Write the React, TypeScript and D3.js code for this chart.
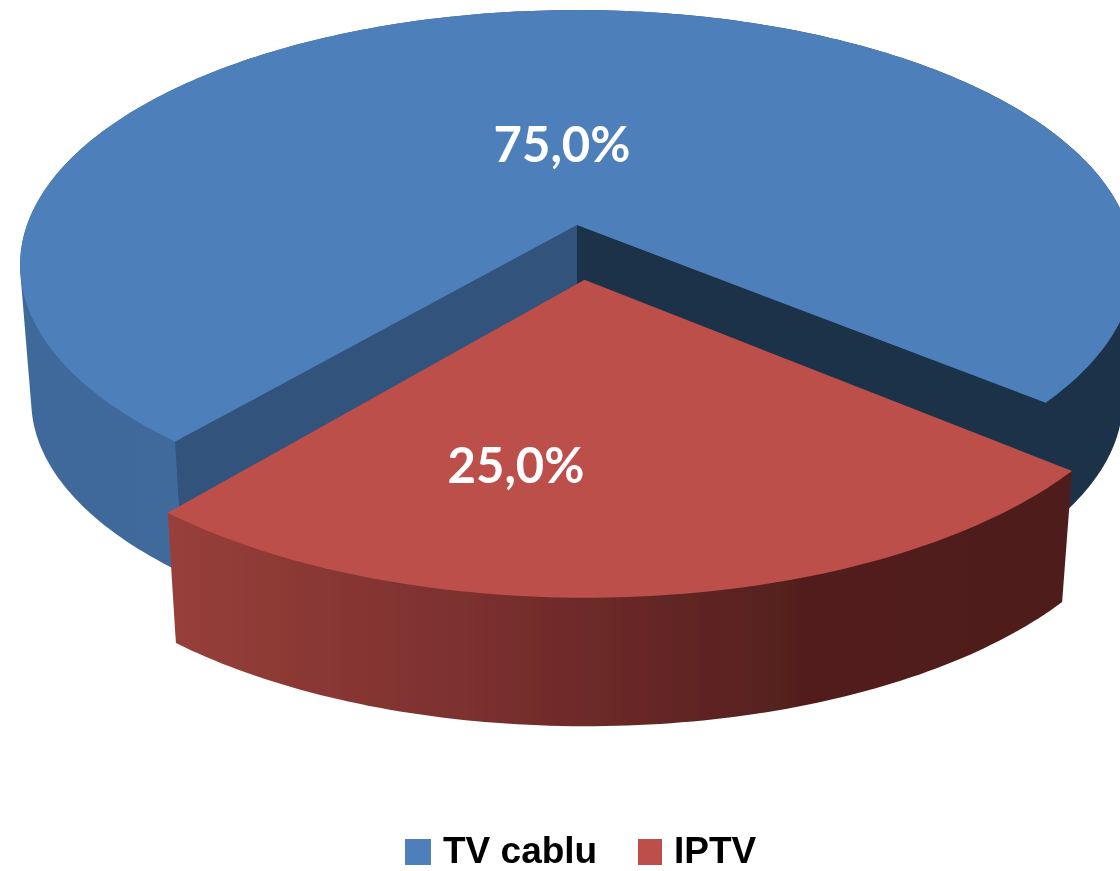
import * as d3 from 'd3'

const categories = ['TV cablu', 'IPTV']
const shares = [75, 25]
const shareLabels = ['75,0%', '25,0%']
const topColors = ['#4d7fba', '#bd4f4b']

const WIDTH = 1120
const HEIGHT = 871

// perspective camera fitted to the picture
const APEX = { x: 577, y: 225 }
const CAM = { a: 550, b: 248.7, k: 0.157 }
const DEPTH = { drop: 136, shrink: 0.98 }
const EXPLODE = 0.214
const EXPLODE_X = 0.7 // the slice in the picture moves out a bit less sideways
const START = (220 * Math.PI) / 180

type Pt = [number, number]

function project(u: number, v: number, lower: boolean): Pt {
  const w = 1 - CAM.k * v
  const s = lower ? DEPTH.shrink : 1
  return [
    APEX.x + (s * CAM.a * u) / w,
    APEX.y + (lower ? DEPTH.drop : 0) + (s * CAM.b * v) / w,
  ]
}

const line = d3.line<Pt>()

const slices = d3
  .pie<number>()
  .sort(null)
  .startAngle(START)
  .endAngle(START + 2 * Math.PI)(shares)

function arcPoints(a0: number, a1: number, ox: number, oy: number, lower: boolean): Pt[] {
  const n = Math.ceil(Math.abs(a1 - a0) * 60)
  return d3.range(n + 1).map((i) => {
    const a = a0 + ((a1 - a0) * i) / n
    return project(Math.sin(a) + ox, -Math.cos(a) + oy, lower)
  })
}

function sliceShapes(i: number) {
  const s = slices[i]
  const mid = (s.startAngle + s.endAngle) / 2
  const e = i === 1 ? EXPLODE : 0
  const ox = Math.sin(mid) * e * EXPLODE_X
  const oy = -Math.cos(mid) * e
  const top = arcPoints(s.startAngle, s.endAngle, ox, oy, false)
  const low = arcPoints(s.startAngle, s.endAngle, ox, oy, true)
  const apexTop = project(ox, oy, false)
  const apexLow = project(ox, oy, true)
  return {
    top: line([apexTop, ...top])! + 'Z',
    // hull so the silhouette runs straight from the top rim to the lower rim
    outer: line(d3.polygonHull([...top, ...low])!)! + 'Z',
    wallStart: line([apexTop, top[0], low[0], apexLow])! + 'Z',
    wallEnd: line([apexTop, top[top.length - 1], low[low.length - 1], apexLow])! + 'Z',
  }
}

const blue = sliceShapes(0)
const red = sliceShapes(1)

export default function App() {
  return (
    <svg
      width={WIDTH}
      height={HEIGHT}
      viewBox={`0 0 ${WIDTH} ${HEIGHT}`}
      style={{ position: 'absolute', left: 0, top: 0, background: '#fff' }}
    >
      <defs>
        <linearGradient id="blueSide" gradientUnits="userSpaceOnUse" x1={20} x2={1120} y1={0} y2={0}>
          <stop offset="0" stopColor="#41699b" />
          <stop offset="0.15" stopColor="#3f6a9c" />
          <stop offset="0.2" stopColor="#3f6a9c" />
          <stop offset="0.9" stopColor="#1e3148" />
          <stop offset="1" stopColor="#1e3148" />
        </linearGradient>
        <linearGradient id="redSide" gradientUnits="userSpaceOnUse" x1={172} x2={1072} y1={0} y2={0}>
          <stop offset="0" stopColor="#973f3a" />
          <stop offset="0.35" stopColor="#7a2f2e" />
          <stop offset="0.7" stopColor="#531f1e" />
          <stop offset="1" stopColor="#4f1e1d" />
        </linearGradient>
        <filter id="soft" x="-5%" y="-5%" width="110%" height="110%">
          <feGaussianBlur stdDeviation="0.6" />
        </filter>
      </defs>

      <g filter="url(#soft)">
        <path d={blue.outer} fill="url(#blueSide)" />
        <path d={blue.wallStart} fill="#31527b" />
        <path d={blue.wallEnd} fill="#1e3148" />
        <path d={blue.top} fill={topColors[0]} />
        <path d={red.outer} fill="url(#redSide)" />
        <path d={red.top} fill={topColors[1]} />

        <g fontFamily="Lato" fontWeight={700} fontSize={49} fill="#fff" textAnchor="middle">
          <text x={562} y={162}>{shareLabels[0]}</text>
          <text x={516} y={483}>{shareLabels[1]}</text>
        </g>

        <g fontFamily="'Liberation Sans'" fontWeight={700} fontSize={37} fill="#000">
          <rect x={405} y={839} width={26} height={26} fill={topColors[0]} />
          <text x={443} y={863}>{categories[0]}</text>
          <rect x={638} y={839} width={24} height={26} fill={topColors[1]} />
          <text x={674} y={863}>{categories[1]}</text>
        </g>
      </g>
    </svg>
  )
}
